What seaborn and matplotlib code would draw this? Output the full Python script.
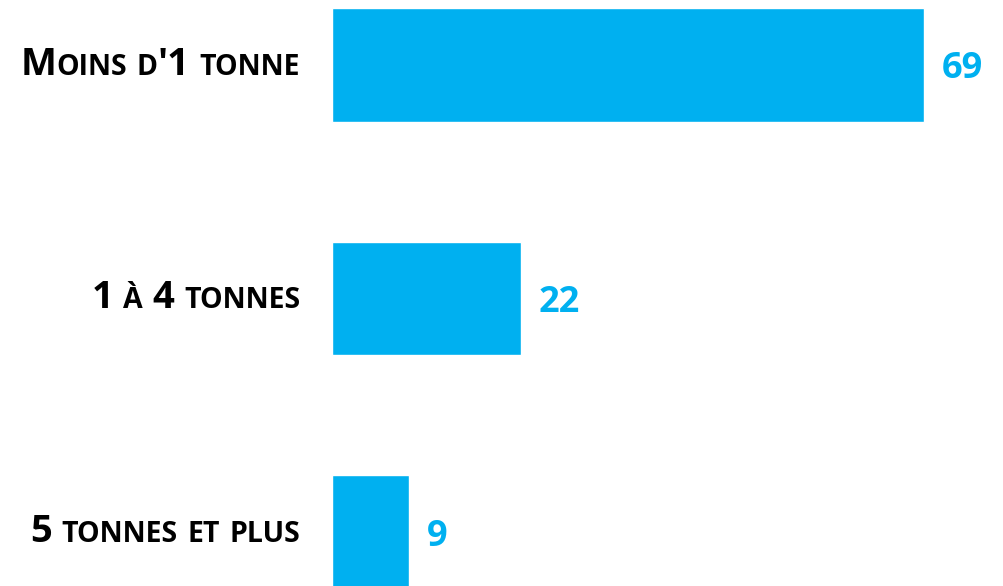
import matplotlib
matplotlib.use("Agg")
import matplotlib.pyplot as plt
import matplotlib.transforms as mtransforms
from matplotlib.offsetbox import TextArea, HPacker, AnnotationBbox
import seaborn as sns

# data
categories = ["Moins d'1 tonne", "1 à 4 tonnes", "5 tonnes et plus"]
values = [69, 22, 9]

bar_color = "#00B0F0"
font = "Open Sans"

sns.set_theme(style="white")
plt.rcParams['font.family'] = [font, 'DejaVu Sans']

fig = plt.figure(figsize=(10.04, 5.86), dpi=100)
ax = fig.add_axes([332 / 1004, 0, 672 / 1004, 1])

sns.barplot(x=values, y=categories, orient="h", color=bar_color,
            saturation=1, width=0.485, ax=ax)

ax.set_xlim(0, 78.3)
ax.set_ylim(2.231, -0.278)
sns.despine(ax=ax, left=True, bottom=True)
ax.set_xticks([])
ax.set_yticks([])
ax.set_xlabel("")
ax.set_ylabel("")


def small_caps(label, big=27.5, small=20.5, space=7):
    # lowercase letters -> small uppercase, everything else full size
    words = []
    for w in label.split(" "):
        runs = []
        for ch in w:
            sm = ch.islower()
            if runs and runs[-1][1] == sm:
                runs[-1][0] += ch
            else:
                runs.append([ch, sm])
        kids = [TextArea(t.upper() if sm else t,
                         textprops=dict(fontsize=small if sm else big,
                                        fontweight="bold", color="black",
                                        family=[font, "DejaVu Sans"]))
                for t, sm in runs]
        words.append(HPacker(children=kids, pad=0, sep=0, align="baseline"))
    return HPacker(children=words, pad=0, sep=space, align="baseline")


trans = mtransforms.blended_transform_factory(ax.transAxes, ax.transData)
for i, cat in enumerate(categories):
    ab = AnnotationBbox(small_caps(cat), (-0.0476, i), xycoords=trans,
                        box_alignment=(1, 0.5), frameon=False, pad=0,
                        annotation_clip=False)
    ax.add_artist(ab)

for i, v in enumerate(values):
    ax.annotate(str(v), xy=(v, i), xytext=(13, 0), textcoords="offset points",
                ha="left", va="center_baseline", fontsize=26,
                fontweight="bold", color=bar_color, annotation_clip=False)

fig.savefig("out.png", dpi=100)
